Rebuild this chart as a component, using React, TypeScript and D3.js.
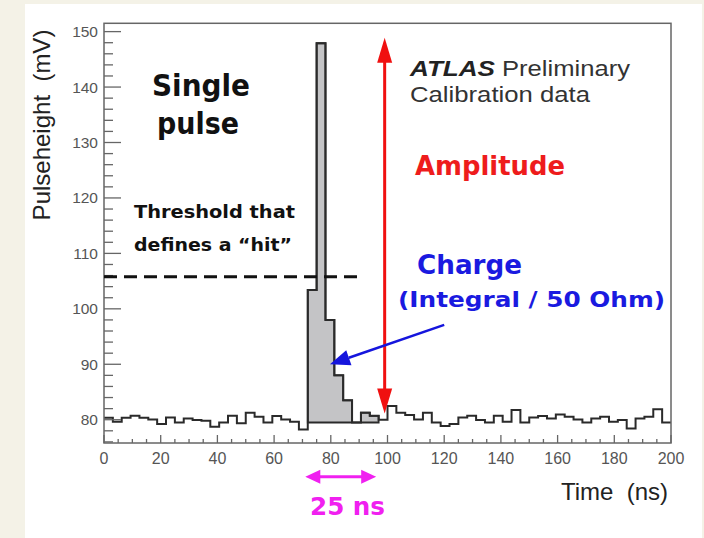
import React from "react";
import * as d3 from "d3";

const binWidth = 3.125; // ns
const pulseheight = [
  80.36, 79.64, 80.36, 80.72, 80.36, 80.06, 79.22, 80.42, 79.52, 80.24, 79.94, 79.82,
  78.73, 79.52, 80.72, 79.34, 81.27, 80.54, 79.52, 80.66, 80.06, 79.64, 78.25,
  103.4, 147.9, 98.0, 88.0, 83.5, 79.5, 81.27, 80.7, 80.0,
  82.47, 81.27, 80.84, 80.06, 81.27, 79.52, 78.86, 79.22, 80.42, 80.72, 79.94, 79.52,
  80.72, 79.64, 81.75, 79.52, 80.42, 80.66, 80.24, 80.96, 80.54, 80.06, 79.52, 80.24,
  80.54, 79.64, 79.94, 78.43, 80.24, 80.54, 81.87, 79.52,
];
const pulseBins = [23, 30];
const pulseBase = 79.5;
const xTicks = [0, 20, 40, 60, 80, 100, 120, 140, 160, 180, 200];
const yTicks = [80, 90, 100, 110, 120, 130, 140, 150];
const threshold = 105.8;
const thresholdEnd = 91.3;
const amplitudeArrow = { x: 99, from: 81.1, to: 148.9 };
const chargeArrow = { x0: 120, y0: 97.1, x1: 79.7, y1: 90.0 };
const windowArrow = { from: 71, to: 96 };

export default function App() {
  const x = d3.scaleLinear().domain([0, 200]).range([104, 671]);
  const y = d3.scaleLinear().domain([75.8, 151.5]).range([443, 23.3]);

  const pts: [number, number][] = pulseheight.map((v, i) => [i * binWidth, v]);
  pts.push([200, pulseheight[pulseheight.length - 1]]);
  const line = d3
    .line<[number, number]>()
    .x((d) => x(d[0]))
    .y((d) => y(d[1]))
    .curve(d3.curveStepAfter);

  const fillPts: [number, number][] = [];
  for (let k = pulseBins[0]; k <= pulseBins[1]; k++) fillPts.push([k * binWidth, pulseheight[k]]);
  fillPts.push([(pulseBins[1] + 1) * binWidth, pulseheight[pulseBins[1]]]);
  const area = d3
    .area<[number, number]>()
    .x((d) => x(d[0]))
    .y0(y(pulseBase))
    .y1((d) => y(d[1]))
    .curve(d3.curveStepAfter);

  const xMinor = d3.range(0, 200.01, 5);
  const yMinor = d3.range(76, 151, 2);

  const comic = "'Comic Sans MS', 'DejaVu Sans', sans-serif";
  const arial = "'Liberation Sans', Arial, sans-serif";

  const bx0 = x(chargeArrow.x0), by0 = y(chargeArrow.y0);
  const bx1 = x(chargeArrow.x1), by1 = y(chargeArrow.y1);
  const ang = Math.atan2(by1 - by0, bx1 - bx0);
  const hl = 20, hw = 8;
  const bhx = bx1 - hl * Math.cos(ang), bhy = by1 - hl * Math.sin(ang);
  const px = -Math.sin(ang), py = Math.cos(ang);

  const ax = x(amplitudeArrow.x);
  const aTop = y(amplitudeArrow.to);
  const aBot = y(amplitudeArrow.from);
  const mY = 476.7;
  const m0 = x(windowArrow.from), m1 = x(windowArrow.to);

  return (
    <svg width={704} height={538} style={{ position: "absolute", left: 0, top: 0, display: "block" }}>
      <rect x={0} y={0} width={704} height={538} fill="#f4f2e7" />
      <rect x={25} y={4} width={677} height={534} fill="#ffffff" />

      <path d={area(fillPts) || ""} fill="#c4c4c6" stroke="#2a2a2a" strokeWidth={1.8} />
      <path d={line(pts) || ""} fill="none" stroke="#2a2a2a" strokeWidth={2} />

      <rect x={104} y={23.3} width={567} height={419.7} fill="none" stroke="#666" strokeWidth={1.5} />

      {xMinor.map((t) => (
        <line key={"xm" + t} x1={x(t)} x2={x(t)} y1={443} y2={443 - (t % 20 === 0 ? 8 : 4)} stroke="#666" strokeWidth={1.3} />
      ))}
      {xTicks.map((t) => (
        <text key={"xt" + t} x={x(t)} y={464} textAnchor="middle" fontFamily={arial} fontSize={16} fill="#555">
          {t}
        </text>
      ))}
      {yMinor.map((t) => (
        <line key={"ym" + t} x1={104} x2={104 + (t % 10 === 0 ? 17 : 9)} y1={y(t)} y2={y(t)} stroke="#666" strokeWidth={1.3} />
      ))}
      {yTicks.map((t) => (
        <text key={"yt" + t} x={98} y={y(t) + 5.5} textAnchor="end" fontFamily={arial} fontSize={15.5} fill="#555">
          {t}
        </text>
      ))}

      <text
        transform={`translate(50,125) rotate(-90)`}
        textAnchor="middle"
        fontFamily={arial}
        fontSize={24}
        fill="#222"
        xmlSpace="preserve"
      >
        {"Pulseheight  (mV)"}
      </text>
      <text x={668} y={500} textAnchor="end" fontFamily={arial} fontSize={24} fill="#222" xmlSpace="preserve">
        {"Time  (ns)"}
      </text>

      <line x1={x(0)} x2={x(thresholdEnd)} y1={y(threshold)} y2={y(threshold)} stroke="#111" strokeWidth={3} strokeDasharray="13 7" />

      <line x1={ax} x2={ax} y1={aTop + 22} y2={aBot - 22} stroke="#f01010" strokeWidth={3} />
      <polygon points={`${ax},${aTop} ${ax - 7.5},${aTop + 25} ${ax + 7.5},${aTop + 25}`} fill="#f01010" />
      <polygon points={`${ax},${aBot} ${ax - 7.5},${aBot - 25} ${ax + 7.5},${aBot - 25}`} fill="#f01010" />

      <line x1={bx0} y1={by0} x2={bhx} y2={bhy} stroke="#1515dd" strokeWidth={2.5} />
      <polygon
        points={`${bx1},${by1} ${bhx + hw * px},${bhy + hw * py} ${bhx - hw * px},${bhy - hw * py}`}
        fill="#1515dd"
      />

      <line x1={m0 + 12} x2={m1 - 12} y1={mY} y2={mY} stroke="#f020f0" strokeWidth={3} />
      <polygon points={`${m0},${mY} ${m0 + 15},${mY - 7} ${m0 + 15},${mY + 7}`} fill="#f020f0" />
      <polygon points={`${m1},${mY} ${m1 - 15},${mY - 7} ${m1 - 15},${mY + 7}`} fill="#f020f0" />

      <text x={152} y={96} fontFamily={comic} fontSize={30} fontWeight="bold" fill="#111" textLength={98} lengthAdjust="spacingAndGlyphs">Single</text>
      <text x={157} y={134} fontFamily={comic} fontSize={30} fontWeight="bold" fill="#111" textLength={82} lengthAdjust="spacingAndGlyphs">pulse</text>
      <text x={134} y={218} fontFamily={comic} fontSize={17} fontWeight="bold" fill="#111" textLength={161} lengthAdjust="spacingAndGlyphs">Threshold that</text>
      <text x={134} y={251} fontFamily={comic} fontSize={17} fontWeight="bold" fill="#111" textLength={158} lengthAdjust="spacingAndGlyphs">{"defines a \u201chit\u201d"}</text>

      <text x={410} y={76} fontFamily={arial} fontSize={22} fontStyle="italic" fontWeight="bold" fill="#222" textLength={85} lengthAdjust="spacingAndGlyphs">ATLAS</text>
      <text x={502} y={76} fontFamily={arial} fontSize={22} fill="#333" textLength={128} lengthAdjust="spacingAndGlyphs">Preliminary</text>
      <text x={410} y={102} fontFamily={arial} fontSize={22} fill="#333" textLength={180} lengthAdjust="spacingAndGlyphs">Calibration data</text>

      <text x={415} y={175} fontFamily={comic} fontSize={26} fontWeight="bold" fill="#ee1c1c" textLength={150} lengthAdjust="spacingAndGlyphs">Amplitude</text>
      <text x={417} y={274} fontFamily={comic} fontSize={26} fontWeight="bold" fill="#1a1ae0" textLength={105} lengthAdjust="spacingAndGlyphs">Charge</text>
      <text x={398} y={307} fontFamily={comic} fontSize={21} fontWeight="bold" fill="#1a1ae0" textLength={267} lengthAdjust="spacingAndGlyphs">(Integral / 50 Ohm)</text>
      <text x={310} y={515} fontFamily={comic} fontSize={24} fontWeight="bold" fill="#f020f0" textLength={75} lengthAdjust="spacingAndGlyphs">25 ns</text>
    </svg>
  );
}
